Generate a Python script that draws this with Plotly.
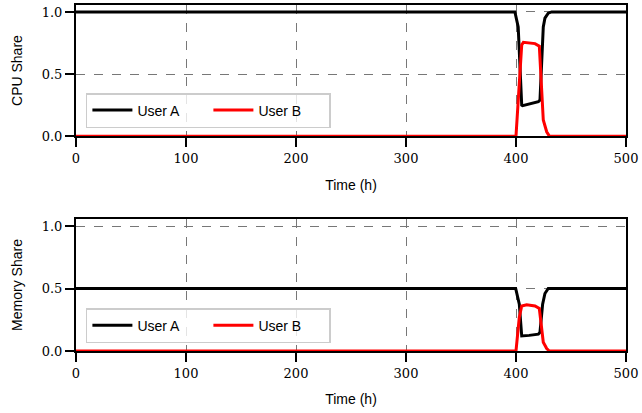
import plotly.graph_objects as go

# ---- data ----
cpu_a_t = [0, 399, 402, 405.2, 406, 413, 420.3, 421.8, 424.8, 426.3, 429.3, 432.4, 500]
cpu_a_v = [1.0, 1.0, 0.88, 0.25, 0.245, 0.26, 0.277, 0.29, 0.88, 0.95, 0.99, 1.0, 1.0]

cpu_b_t = [0, 400, 403, 405.2, 406.7, 417.3, 421.2, 423.3, 424.8, 427.9, 430.3, 500]
cpu_b_v = [0.0, 0.0, 0.425, 0.734, 0.755, 0.745, 0.725, 0.425, 0.13, 0.035, 0.0, 0.0]

mem_a_t = [0, 399.7, 403, 405.2, 412, 420.3, 421.8, 424.2, 426.3, 429.3, 500]
mem_a_v = [0.5, 0.5, 0.375, 0.12, 0.125, 0.135, 0.15, 0.375, 0.46, 0.5, 0.5]

mem_b_t = [0, 400, 403, 405.2, 409.7, 417.3, 421.2, 423.3, 424.8, 427.9, 430.3, 500]
mem_b_v = [0.0, 0.0, 0.27, 0.36, 0.37, 0.36, 0.34, 0.19, 0.07, 0.02, 0.0, 0.0]

x_ticks = [0, 100, 200, 300, 400, 500]
y_ticks = [0.0, 0.5, 1.0]
series_names = ["User A", "User B"]
colors = ["black", "red"]

fig = go.Figure()
fig.add_trace(go.Scatter(x=cpu_a_t, y=cpu_a_v, mode="lines", name=series_names[0],
                         line=dict(color=colors[0], width=3), xaxis="x", yaxis="y", legend="legend"))
fig.add_trace(go.Scatter(x=cpu_b_t, y=cpu_b_v, mode="lines", name=series_names[1],
                         line=dict(color=colors[1], width=3), xaxis="x", yaxis="y", legend="legend"))
fig.add_trace(go.Scatter(x=mem_a_t, y=mem_a_v, mode="lines", name=series_names[0],
                         line=dict(color=colors[0], width=3), xaxis="x2", yaxis="y2", legend="legend2"))
fig.add_trace(go.Scatter(x=mem_b_t, y=mem_b_v, mode="lines", name=series_names[1],
                         line=dict(color=colors[1], width=3), xaxis="x2", yaxis="y2", legend="legend2"))

tickfont = dict(family="DejaVu Serif", size=13, color="black")
titlefont = dict(family="Liberation Sans", size=14, color="black")

def xax(anchor, title):
    return dict(anchor=anchor, domain=[0, 1], range=[0, 500], tickvals=x_ticks,
                ticks="outside", ticklen=9, tickwidth=2, tickcolor="black",
                showline=True, linecolor="black", linewidth=2, mirror=True,
                showgrid=True, gridcolor="#777777", gridwidth=1, griddash="dash",
                zeroline=False, tickfont=tickfont, automargin=False,
                title=dict(text=title, font=titlefont, standoff=15))

def yax(anchor, dom, title):
    return dict(anchor=anchor, domain=dom, range=[0, 1.056], tickvals=y_ticks,
                tickformat=".1f",
                ticks="outside", ticklen=9, tickwidth=2, tickcolor="black",
                showline=True, linecolor="black", linewidth=2, mirror=True,
                showgrid=True, gridcolor="#777777", gridwidth=1, griddash="dash",
                zeroline=False, tickfont=tickfont, automargin=False,
                title=dict(text=title, font=titlefont, standoff=16))

legend_common = dict(orientation="h", xanchor="left", yanchor="bottom",
                     bgcolor="rgba(255,255,255,0.8)", bordercolor="#cccccc", borderwidth=1.5,
                     font=dict(family="Liberation Sans", size=14, color="black"),
                     entrywidth=66, entrywidthmode="pixels", itemwidth=40)

fig.update_layout(
    width=642, height=413,
    margin=dict(l=76, r=16, t=5, b=62, autoexpand=False),
    paper_bgcolor="white", plot_bgcolor="white",
    showlegend=True,
    xaxis=xax("y", "Time (h)"),
    yaxis=yax("x", [0.621, 1.0], "CPU Share"),
    xaxis2=xax("y2", "Time (h)"),
    yaxis2=yax("x2", [0.0, 0.3815], "Memory Share"),
    legend=dict(x=0.018, y=0.6445, **legend_common),
    legend2=dict(x=0.018, y=0.023, **legend_common),
)

fig.write_html("out.html", config={"displayModeBar": False},
               post_script="document.body.style.margin='0px';")
